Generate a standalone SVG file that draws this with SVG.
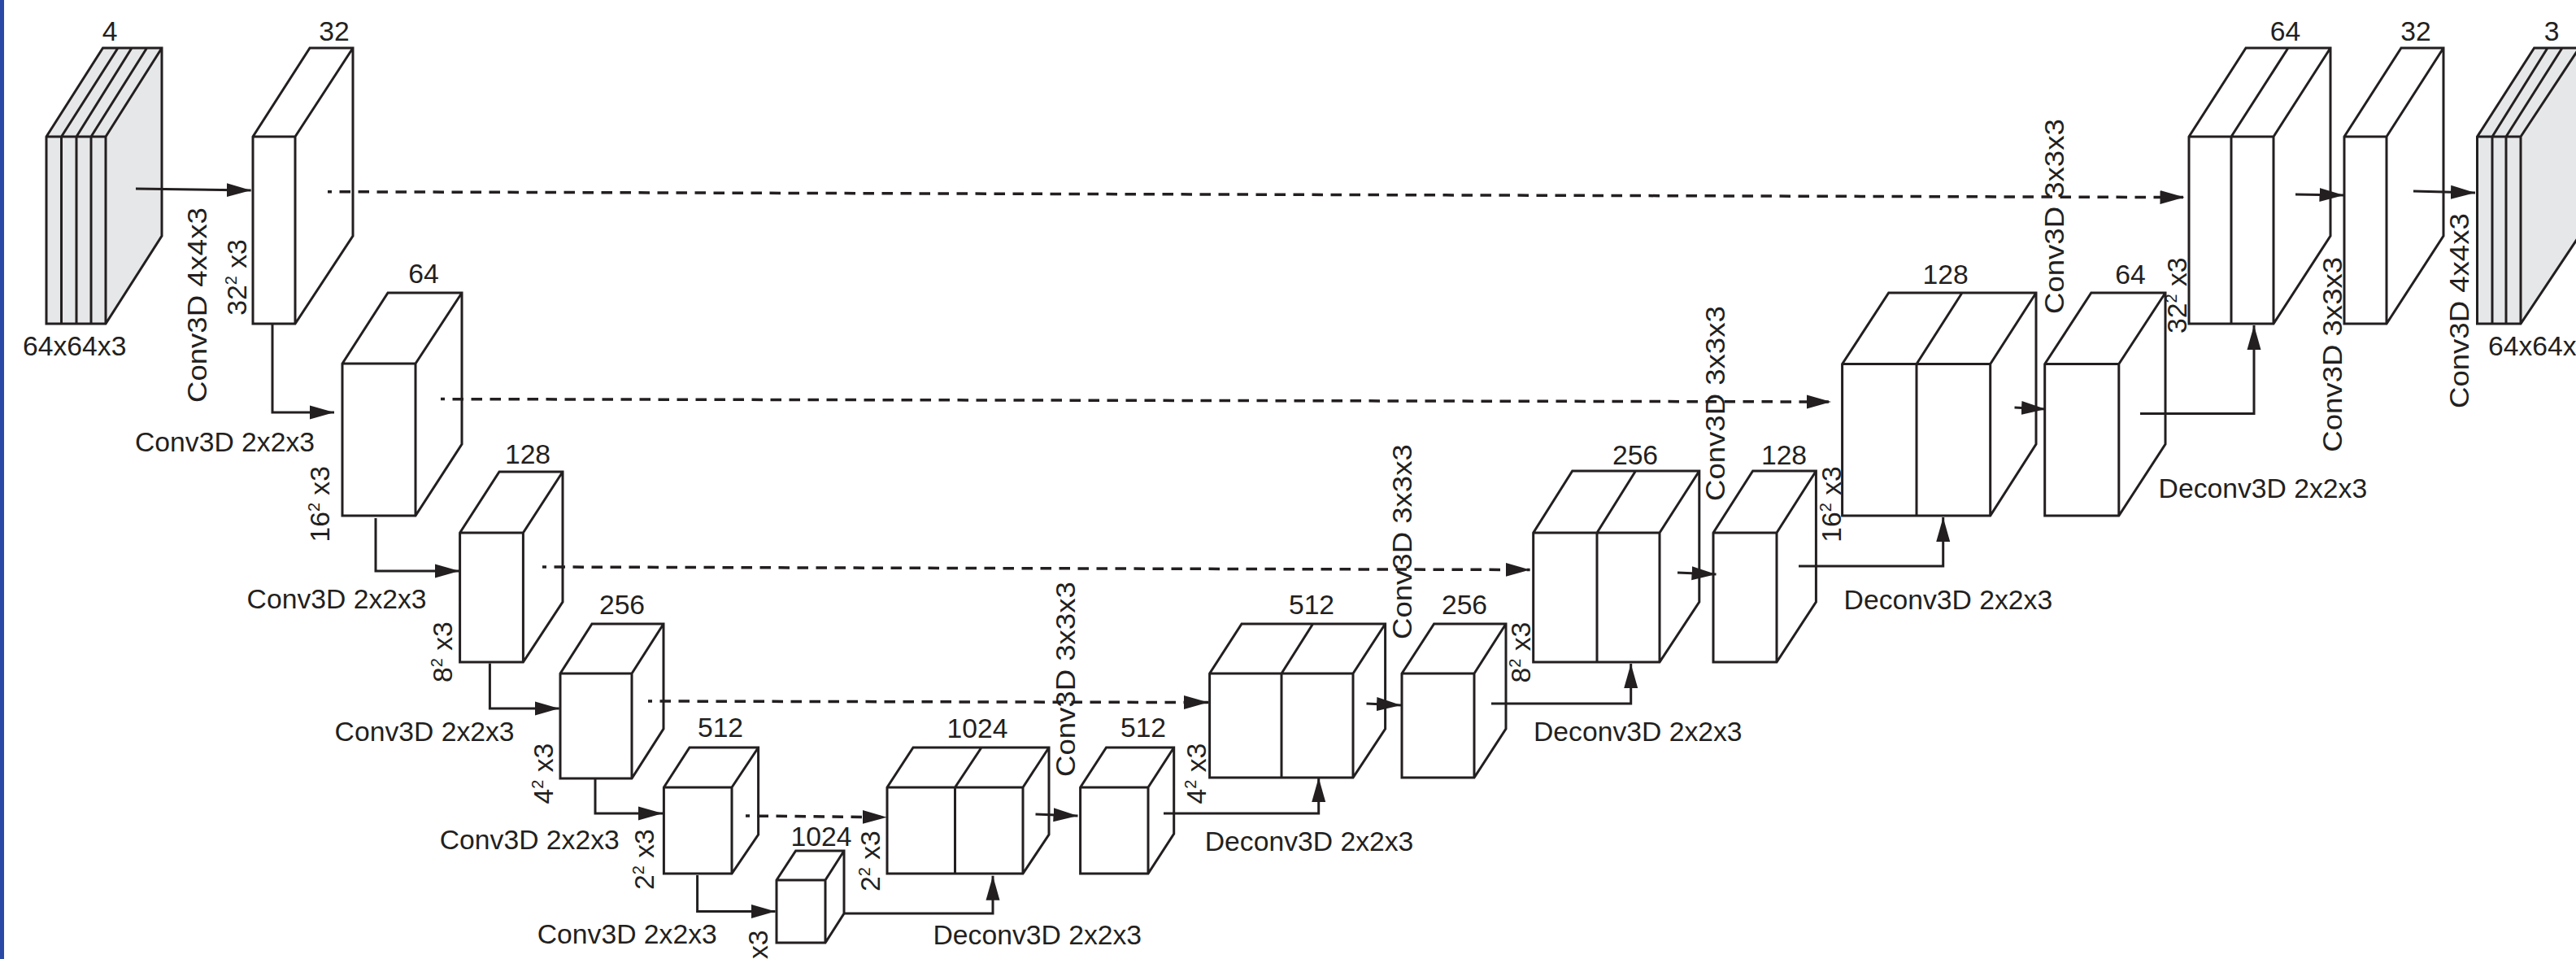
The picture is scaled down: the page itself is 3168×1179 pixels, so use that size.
<svg xmlns="http://www.w3.org/2000/svg" width="3168" height="1179" viewBox="0 0 3168 1179">
<defs>
<style>
.b{fill:#fff;stroke:#231f20;stroke-width:3}
.g{fill:#e6e7e8;stroke:#231f20;stroke-width:3}
.c{fill:none;stroke:#231f20;stroke-width:3}
.d{stroke-width:3.5;stroke-dasharray:13.5 9.5;stroke-dashoffset:8.5}
.a{marker-end:url(#ah)}
text{font-family:"Liberation Sans",Arial,sans-serif;font-size:33.7px;fill:#231f20}
.n{text-anchor:middle}
.s{font-size:20px}
</style>
<marker id="ah" markerUnits="userSpaceOnUse" markerWidth="31" markerHeight="18" refX="30" refY="9" orient="auto"><path d="M0 0.5L30 9L0 17.5Z" fill="#231f20"/></marker>
</defs>
<rect width="3168" height="1179" fill="#fff"/>
<rect width="5" height="1179" fill="#2a48a5"/>

<g id="input">
<path class="g" d="M57 168L126.5 59H199V290L130 398H57ZM57 168H130V398M130 168L199 59M75.5 168V398M94 168V398M112 168V398M75.5 168L145 59M94 168L162 59M112 168L180.6 59"/>
<text class="n" x="135" y="50">4</text>
<text x="28" y="437">64x64x3</text>
</g>
<g id="enc32">
<path class="b" d="M311 168L381 59H434V290L363 398H311ZM311 168H363V398M363 168L434 59"/>
<text class="n" x="411" y="50">32</text>
</g>
<g id="enc64">
<path class="b" d="M421 447L477 360H568V546L511 634H421ZM421 447H511V634M511 447L568 360"/>
<text class="n" x="521" y="348">64</text>
</g>
<g id="enc128">
<path class="b" d="M565.6 655L614 580H692V740L643.4 814H565.6ZM565.6 655H643.4V814M643.4 655L692 580"/>
<text class="n" x="649" y="570">128</text>
</g>
<g id="enc256">
<path class="b" d="M689 828L728 767H816V896L777 957H689ZM689 828H777V957M777 828L816 767"/>
<text class="n" x="765" y="755">256</text>
</g>
<g id="enc512">
<path class="b" d="M816.4 968L848 919H932.6V1026L900 1074H816.4ZM816.4 968H900V1074M900 968L932.6 919"/>
<text class="n" x="886" y="906">512</text>
</g>
<g id="bottleneck">
<path class="b" d="M955 1082L978.6 1046H1038V1123L1015 1159H955ZM955 1082H1015V1159M1015 1082L1038 1046"/>
<text class="n" x="1010" y="1040">1024</text>
</g>
<g id="dec1024">
<path class="b" d="M1091 968L1123 919H1290V1026L1258 1074H1091ZM1091 968H1258V1074M1258 968L1290 919M1174.5 968V1074M1174.5 968L1207 919"/>
<text class="n" x="1202" y="907">1024</text>
</g>
<g id="dec512a">
<path class="b" d="M1328.6 968L1360.5 919H1443.7V1025L1412 1074H1328.6ZM1328.6 968H1412V1074M1412 968L1443.7 919"/>
<text class="n" x="1406" y="906">512</text>
</g>
<g id="dec512b">
<path class="b" d="M1487.6 828L1527 767H1703.6V896L1664 956H1487.6ZM1487.6 828H1664V956M1664 828L1703.6 767M1576 828V956M1576 828L1614.6 767"/>
<text class="n" x="1613" y="755">512</text>
</g>
<g id="dec256a">
<path class="b" d="M1724 828L1763.6 767H1852V896L1813 956H1724ZM1724 828H1813V956M1813 828L1852 767"/>
<text class="n" x="1801" y="755">256</text>
</g>
<g id="dec256b">
<path class="b" d="M1885.7 655L1933.7 579H2089.8V740L2041 814H1885.7ZM1885.7 655H2041V814M2041 655L2089.8 579M1964 655V814M1964 655L2011.5 579"/>
<text class="n" x="2011" y="571">256</text>
</g>
<g id="dec128a">
<path class="b" d="M2107 655L2155.6 579H2233.4V740L2185 814H2107ZM2107 655H2185V814M2185 655L2233.4 579"/>
<text class="n" x="2194" y="571">128</text>
</g>
<g id="dec128b">
<path class="b" d="M2265.6 447.5L2322.7 360H2504V546L2447.7 634H2265.6ZM2265.6 447.5H2447.7V634M2447.7 447.5L2504 360M2357 447.5V634M2357 447.5L2413 360"/>
<text class="n" x="2392.6" y="349">128</text>
</g>
<g id="dec64a">
<path class="b" d="M2514.7 447.5L2571.8 360H2663V546L2605.8 634H2514.7ZM2514.7 447.5H2605.8V634M2605.8 447.5L2663 360"/>
<text class="n" x="2620" y="349">64</text>
</g>
<g id="dec64b">
<path class="b" d="M2692 168L2762 59H2866V290L2796 398H2692ZM2692 168H2796V398M2796 168L2866 59M2744 168V398M2744 168L2814 59"/>
<text class="n" x="2810.5" y="50">64</text>
</g>
<g id="dec32">
<path class="b" d="M2883 168L2953 59H3005V290L2935 398H2883ZM2883 168H2935V398M2935 168L3005 59"/>
<text class="n" x="2971" y="50">32</text>
</g>
<g id="output">
<path class="g" d="M3046.5 168L3116.6 59H3172V290L3100 398H3046.5ZM3046.5 168H3100V398M3100 168L3172 59M3065 168V398M3082 168V398M3065 168L3133 59M3082 168L3151 59"/>
<text class="n" x="3138" y="50">3</text>
<text x="3060" y="437">64x64x3</text>
</g>

<g id="connectors">
<path class="c a" d="M167 232L308.7 234"/>
<path class="c d a" d="M403 235.7L2686.5 242.6"/>
<path class="c a" d="M335 398V507H411"/>
<path class="c d a" d="M542 490.6L2252 494"/>
<path class="c a" d="M462 637V702H565"/>
<path class="c d a" d="M667 697L1881.6 700.5"/>
<path class="c a" d="M602.4 815.6V871H687.7"/>
<path class="c d a" d="M797 862L1486 863.6"/>
<path class="c a" d="M732 958V1000H815"/>
<path class="c d a" d="M917 1003L1090.8 1004.7"/>
<path class="c a" d="M857.6 1076V1120.5H953.6"/>
<path class="c a" d="M1038.8 1123H1221V1076.8"/>
<path class="c a" d="M1273.5 1001L1325.5 1003"/>
<path class="c a" d="M1431 1000H1621.7V956"/>
<path class="c a" d="M1680.5 865L1723 867"/>
<path class="c a" d="M1834 865H2005.7V816"/>
<path class="c a" d="M2063 704L2110.5 706"/>
<path class="c a" d="M2212 696H2389.7V636"/>
<path class="c a" d="M2477.5 501L2516 503"/>
<path class="c a" d="M2632 508.6H2772V400"/>
<path class="c a" d="M2823 239L2882.5 240"/>
<path class="c a" d="M2968 235L3044 237"/>
</g>

<g id="labels">
<text x="166" y="555">Conv3D 2x2x3</text>
<text x="303.6" y="748">Conv3D 2x2x3</text>
<text x="411.6" y="911">Conv3D 2x2x3</text>
<text x="540.8" y="1044">Conv3D 2x2x3</text>
<text x="660.8" y="1160">Conv3D 2x2x3</text>
<text x="1147.5" y="1161">Deconv3D 2x2x3</text>
<text x="1481.8" y="1046">Deconv3D 2x2x3</text>
<text x="1886" y="911">Deconv3D 2x2x3</text>
<text x="2267.6" y="749">Deconv3D 2x2x3</text>
<text x="2654.6" y="612">Deconv3D 2x2x3</text>

<text transform="translate(253.6 495) rotate(-90) scale(1.085 1)">Conv3D 4x4x3</text>
<text transform="translate(1322.4 955) rotate(-90) scale(1.085 1)">Conv3D 3x3x3</text>
<text transform="translate(1735.7 786) rotate(-90) scale(1.085 1)">Conv3D 3x3x3</text>
<text transform="translate(2120.8 616) rotate(-90) scale(1.085 1)">Conv3D 3x3x3</text>
<text transform="translate(2538 386) rotate(-90) scale(1.085 1)">Conv3D 3x3x3</text>
<text transform="translate(2880 555.7) rotate(-90) scale(1.085 1)">Conv3D 3x3x3</text>
<text transform="translate(3035.7 502) rotate(-90) scale(1.085 1)">Conv3D 4x4x3</text>

<text transform="translate(302.5 387.7) rotate(-90)">32<tspan class="s" dy="-12">2</tspan><tspan dy="12"> x3</tspan></text>
<text transform="translate(405.4 666.6) rotate(-90)">16<tspan class="s" dy="-12">2</tspan><tspan dy="12"> x3</tspan></text>
<text transform="translate(556 839) rotate(-90)">8<tspan class="s" dy="-12">2</tspan><tspan dy="12"> x3</tspan></text>
<text transform="translate(680 988.6) rotate(-90)">4<tspan class="s" dy="-12">2</tspan><tspan dy="12"> x3</tspan></text>
<text transform="translate(803.6 1094) rotate(-90)">2<tspan class="s" dy="-12">2</tspan><tspan dy="12"> x3</tspan></text>
<text transform="translate(944 1179) rotate(-90)">x3</text>
<text transform="translate(1082 1096) rotate(-90)">2<tspan class="s" dy="-12">2</tspan><tspan dy="12"> x3</tspan></text>
<text transform="translate(1482.6 988.6) rotate(-90)">4<tspan class="s" dy="-12">2</tspan><tspan dy="12"> x3</tspan></text>
<text transform="translate(1881.6 839.6) rotate(-90)">8<tspan class="s" dy="-12">2</tspan><tspan dy="12"> x3</tspan></text>
<text transform="translate(2263.5 666.8) rotate(-90)">16<tspan class="s" dy="-12">2</tspan><tspan dy="12"> x3</tspan></text>
<text transform="translate(2689 410) rotate(-90)">32<tspan class="s" dy="-12">2</tspan><tspan dy="12"> x3</tspan></text>
</g>
</svg>
